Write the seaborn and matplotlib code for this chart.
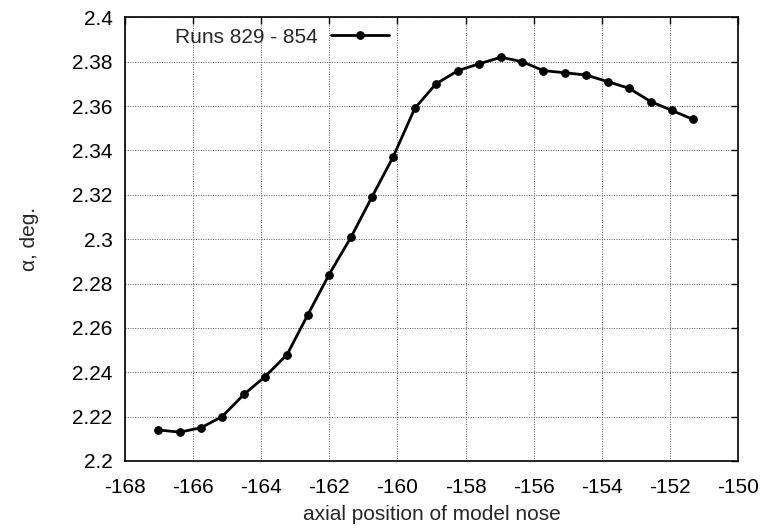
import matplotlib
matplotlib.use("Agg")
import matplotlib.pyplot as plt
import seaborn as sns
import pandas as pd

x_pos = [-167.03, -166.39, -165.77, -165.15, -164.51, -163.89, -163.24, -162.63,
         -162.01, -161.36, -160.75, -160.13, -159.49, -158.87, -158.22, -157.61,
         -156.96, -156.34, -155.72, -155.08, -154.47, -153.82, -153.20, -152.56,
         -151.94, -151.32]
alpha = [2.214, 2.213, 2.215, 2.220, 2.230, 2.238, 2.248, 2.266,
         2.284, 2.301, 2.319, 2.337, 2.359, 2.370, 2.376, 2.379,
         2.382, 2.380, 2.376, 2.375, 2.374, 2.371, 2.368, 2.362,
         2.358, 2.354]
series_label = "Runs 829 - 854"
x_ticks = [-168, -166, -164, -162, -160, -158, -156, -154, -152, -150]
y_ticks = [2.2, 2.22, 2.24, 2.26, 2.28, 2.3, 2.32, 2.34, 2.36, 2.38, 2.4]
y_tick_labels = ["2.2", "2.22", "2.24", "2.26", "2.28", "2.3", "2.32", "2.34", "2.36", "2.38", "2.4"]

sns.set_style("white")
plt.rcParams['font.family'] = ['Liberation Sans', 'DejaVu Sans']

df = pd.DataFrame({"x": x_pos, "y": alpha, "s": series_label})

fig = plt.figure(figsize=(7.78, 5.28), dpi=100)
ax = fig.add_axes([0.1607, 0.1269, 0.9486 - 0.1607, 0.9672 - 0.1269])

sns.lineplot(data=df, x="x", y="y", hue="s", palette=["black"], marker="o",
             markersize=5.5, linewidth=2.0, markeredgecolor="black", ax=ax)

ax.set_xlim(-168, -150)
ax.set_ylim(2.2, 2.4)
ax.set_xticks(x_ticks)
ax.set_xticklabels([str(t) for t in x_ticks])
ax.set_yticks(y_ticks)
ax.set_yticklabels(y_tick_labels)
ax.grid(True, color="#555555", linestyle=(0, (1, 1.5)), linewidth=0.7)
ax.tick_params(direction="in", length=5, width=1, top=True, right=True,
               labelsize=15, colors="black")
ax.tick_params(axis="y", pad=9)
ax.tick_params(axis="x", pad=12)
for s in ax.spines.values():
    s.set_color("black")
    s.set_linewidth(1.2)

ax.set_xlabel("axial position of model nose", fontsize=15, labelpad=6)
ax.set_ylabel("α, deg.", fontsize=15, labelpad=24)

ax.legend(loc="upper left", frameon=False, markerfirst=False, fontsize=15,
          handlelength=2.8, handletextpad=0.6, borderaxespad=0.1,
          bbox_to_anchor=(0.065, 1.0))

fig.savefig("out.png", dpi=100)
